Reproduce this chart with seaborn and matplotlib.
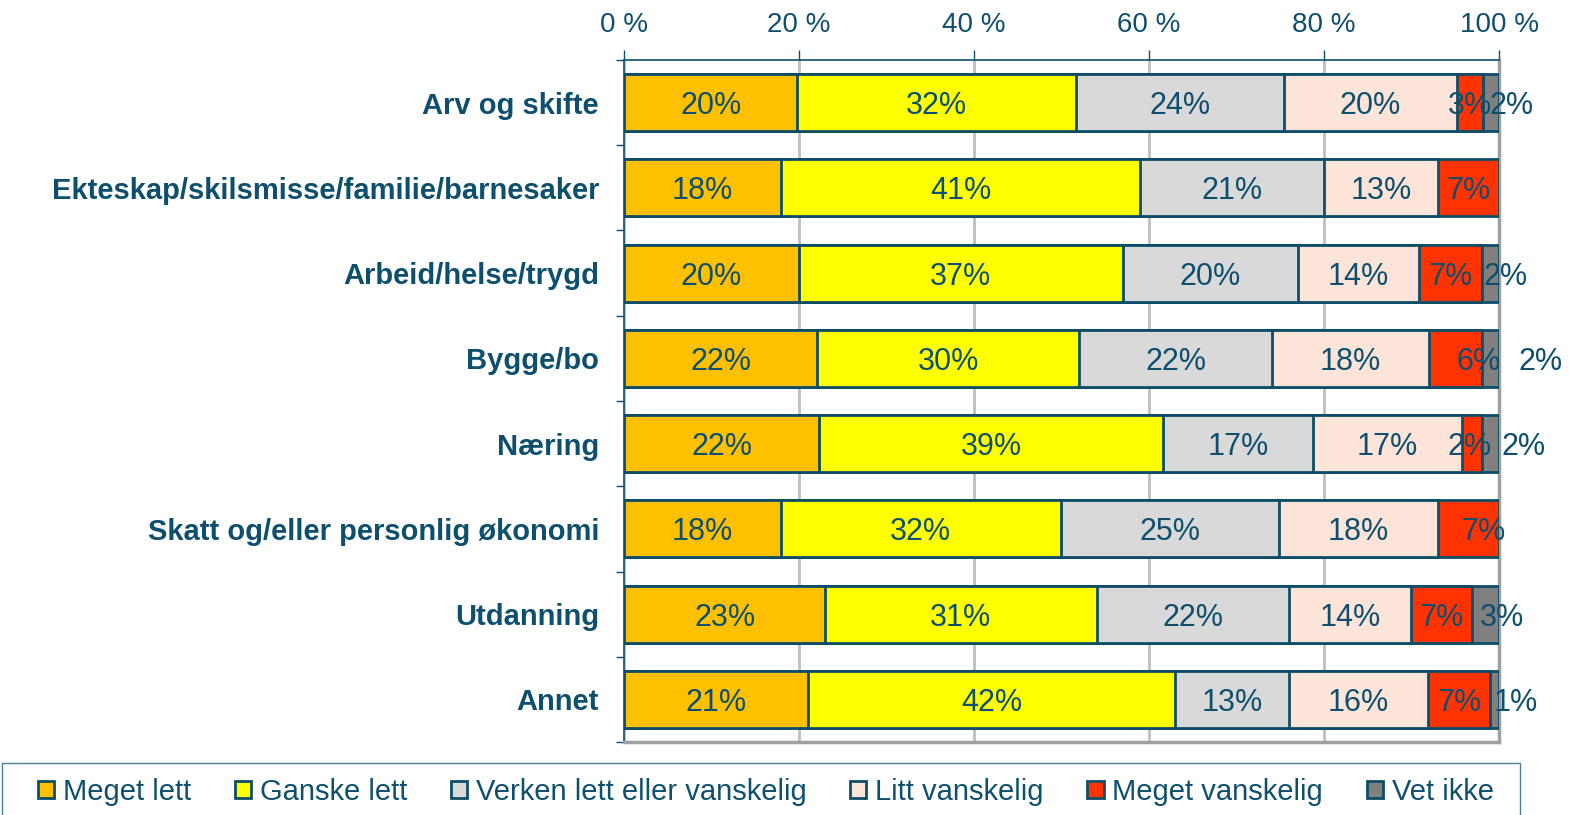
import matplotlib
matplotlib.use("Agg")
import matplotlib.pyplot as plt
import seaborn as sns
import pandas as pd
import numpy as np
from matplotlib.patches import Patch, Rectangle
from matplotlib.ticker import FixedLocator

categories = ["Arv og skifte", "Ekteskap/skilsmisse/familie/barnesaker", "Arbeid/helse/trygd",
              "Bygge/bo", "Næring", "Skatt og/eller personlig økonomi", "Utdanning", "Annet"]
series_names = ["Meget lett", "Ganske lett", "Verken lett eller vanskelig",
                "Litt vanskelig", "Meget vanskelig", "Vet ikke"]
meget_lett = [19.8, 17.9, 20.0, 22.1, 22.3, 17.9, 23.0, 21.0]
ganske_lett = [31.8, 41.1, 37.0, 29.9, 39.3, 32.0, 31.0, 42.0]
verken = [23.8, 21.0, 20.0, 22.1, 17.1, 25.0, 22.0, 13.0]
litt_vanskelig = [19.8, 13.0, 13.9, 17.9, 17.1, 18.1, 13.9, 15.9]
meget_vanskelig = [3.0, 7.0, 7.1, 6.1, 2.2, 7.0, 7.0, 7.1]
vet_ikke = [1.8, 0.0, 2.0, 1.9, 2.0, 0.0, 3.1, 1.0]
x_ticks = [0, 20, 40, 60, 80, 100]
x_tick_labels = ["0 %", "20 %", "40 %", "60 %", "80 %", "100 %"]

colors = ["#FFC000", "#FFFF00", "#D9D9D9", "#FDE4D8", "#FF3300", "#808080"]
# manual horizontal nudges of small-segment labels (in % units), per (series index, row index)
label_nudge = {(5, 0): 2.3, (5, 2): 1.7, (4, 3): 2.6, (5, 3): 5.7, (4, 4): -0.3,
               (5, 4): 3.8, (4, 5): 1.7, (5, 6): 1.9, (5, 7): 2.4}

teal = "#0E4F6E"
edge = "#0E4D67"

series_vals = [meget_lett, ganske_lett, verken, litt_vanskelig, meget_vanskelig, vet_ikke]
vals = np.array(series_vals)
cum = np.cumsum(vals, axis=0)

sns.set_theme(style="white")
plt.rcParams["font.family"] = ["Liberation Sans", "DejaVu Sans"]

fig = plt.figure(figsize=(15.76, 8.15), dpi=100)
ax = fig.add_axes([624 / 1576, 1 - 742 / 815, 875 / 1576, 682 / 815])

# draw cumulative bars from largest to smallest so each visible piece is one segment
for i in range(len(series_names) - 1, -1, -1):
    df = pd.DataFrame({"category": categories, "value": cum[i]})
    mask = vals[i] > 0
    df.loc[~mask, "value"] = np.nan
    sns.barplot(data=df, x="value", y="category", orient="h", color=colors[i],
                edgecolor=edge, linewidth=2.0, width=0.67, saturation=1, ax=ax, zorder=3,
                order=categories)

# labels
for i in range(len(series_names)):
    for j in range(len(categories)):
        v = vals[i, j]
        if v <= 0:
            continue
        xc = cum[i, j] - v / 2 + label_nudge.get((i, j), 0)
        ax.text(xc, j, f"{round(v):.0f}%", ha="center", va="center_baseline",
                fontsize=22, color=teal, zorder=5)

ax.set_xlim(0, 100)
ax.set_ylim(7.5, -0.5)
ax.set_xlabel("")
ax.set_ylabel("")

ax.xaxis.tick_top()
ax.set_xticks(x_ticks)
ax.set_xticklabels(x_tick_labels)
ax.tick_params(axis="x", which="major", top=True, bottom=False, direction="out",
               length=7, width=1, color=teal, labelsize=20, labelcolor=teal, pad=9)
ax.set_yticks(range(len(categories)))
ax.set_yticklabels(categories, fontweight="bold")
ax.tick_params(axis="y", which="major", left=False, length=0, labelsize=21,
               labelcolor=teal, pad=18)
ax.yaxis.set_minor_locator(FixedLocator(np.arange(-0.5, 8, 1)))
ax.tick_params(axis="y", which="minor", left=True, direction="out", length=6,
               width=1, color=teal)

ax.grid(axis="x", color="#BFBFBF", linewidth=2, zorder=0)
ax.set_axisbelow(True)
ax.grid(axis="y", visible=False)

for side in ["top", "left"]:
    ax.spines[side].set_color(teal)
    ax.spines[side].set_linewidth(1.2)
    ax.spines[side].set_visible(True)
for side in ["right", "bottom"]:
    ax.spines[side].set_color("#A0A0A0")
    ax.spines[side].set_linewidth(2.5)
    ax.spines[side].set_visible(True)

# legend frame
fig.patches.append(Rectangle((2 / 1576, -0.05), 1518 / 1576, 0.05 + (815 - 763) / 815,
                             transform=fig.transFigure, fill=False,
                             edgecolor="#4A7F95", linewidth=1.0))
handles = [Patch(facecolor=c, edgecolor=edge, linewidth=2.0) for c in colors]
fig.legend(handles, series_names, loc="center", bbox_to_anchor=(766 / 1576, 1 - 792 / 815),
           ncol=6, frameon=False, fontsize=21, labelcolor=teal,
           handlelength=0.55, handleheight=0.55, handletextpad=0.3, columnspacing=1.5,
           borderpad=0, borderaxespad=0)

fig.savefig("out.png", dpi=100)
